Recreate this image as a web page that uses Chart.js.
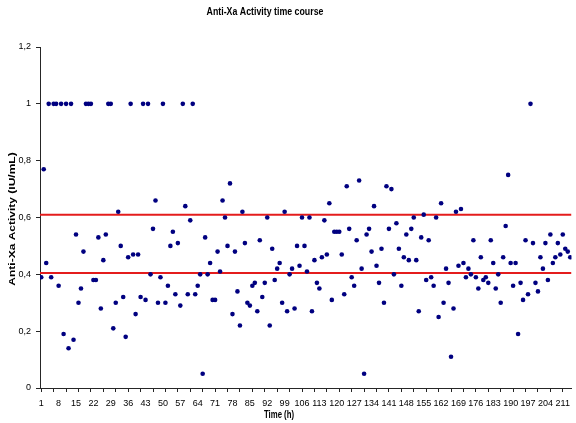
<!DOCTYPE html>
<html>
<head>
<meta charset="utf-8">
<script src="https://cdn.jsdelivr.net/npm/chart.js@4/dist/chart.umd.min.js"></script>
<style>
  html, body { margin: 0; padding: 0; background: #ffffff; }
  #wrap { width: 576px; height: 423px; }
</style>
</head>
<body>
<div id="wrap"><canvas id="chart" width="576" height="423"></canvas></div>
<script>
// Sampling hours (one reading per hour)
const hours = Array.from({ length: 214 }, (_, i) => i + 1);

// Anti-Xa activity (IU/mL) per hour
const antiXa = [
  0.39, 0.77, 0.44, 1.00, 0.39, 1.00, 1.00, 0.36, 1.00, 0.19,   // 1-10
  1.00, 0.14, 1.00, 0.17, 0.54, 0.30, 0.35, 0.48, 1.00, 1.00,   // 11-20
  1.00, 0.38, 0.38, 0.53, 0.28, 0.45, 0.54, 1.00, 1.00, 0.21,   // 21-30
  0.30, 0.62, 0.50, 0.32, 0.18, 0.46, 1.00, 0.47, 0.26, 0.47,   // 31-40
  0.32, 1.00, 0.31, 1.00, 0.40, 0.56, 0.66, 0.30, 0.39, 1.00,   // 41-50
  0.30, 0.36, 0.50, 0.55, 0.33, 0.51, 0.29, 1.00, 0.64, 0.33,   // 51-60
  0.59, 1.00, 0.33, 0.36, 0.40, 0.05, 0.53, 0.40, 0.44, 0.31,   // 61-70
  0.31, 0.48, 0.41, 0.66, 0.60, 0.50, 0.72, 0.26, 0.48, 0.34,   // 71-80
  0.22, 0.62, 0.51, 0.30, 0.29, 0.36, 0.37, 0.27, 0.52, 0.32,   // 81-90
  0.37, 0.60, 0.22, 0.49, 0.38, 0.42, 0.44, 0.30, 0.62, 0.27,   // 91-100
  0.40, 0.42, 0.28, 0.50, 0.43, 0.60, 0.50, 0.41, 0.60, 0.27,   // 101-110
  0.45, 0.37, 0.35, 0.46, 0.59, 0.47, 0.65, 0.31, 0.55, 0.55,   // 111-120
  0.55, 0.47, 0.33, 0.71, 0.56, 0.39, 0.36, 0.52, 0.73, 0.42,   // 121-130
  0.05, 0.54, 0.56, 0.48, 0.64, 0.43, 0.37, 0.49, 0.30, 0.71,   // 131-140
  0.56, 0.70, 0.40, 0.58, 0.49, 0.36, 0.46, 0.54, 0.45, 0.56,   // 141-150
  0.60, 0.45, 0.27, 0.53, 0.61, 0.38, 0.52, 0.39, 0.36, 0.60,   // 151-160
  0.25, 0.65, 0.30, 0.42, 0.37, 0.11, 0.28, 0.62, 0.43, 0.63,   // 161-170
  0.44, 0.39, 0.42, 0.40, 0.52, 0.39, 0.35, 0.46, 0.38, 0.39,   // 171-180
  0.37, 0.52, 0.44, 0.35, 0.40, 0.30, 0.46, 0.57, 0.75, 0.44,   // 181-190
  0.36, 0.44, 0.19, 0.37, 0.31, 0.52, 0.33, 1.00, 0.51, 0.37,   // 191-200
  0.34, 0.46, 0.42, 0.51, 0.38, 0.54, 0.44, 0.46, 0.51, 0.47,   // 201-210
  0.54, 0.49, 0.48, 0.46                                        // 211-214
];

// Axis tick labels
const xTickLabels = [1, 8, 15, 22, 29, 36, 43, 50, 57, 64, 71, 78, 85, 92, 99, 106,
                     113, 120, 127, 134, 141, 148, 155, 162, 169, 176, 183, 190, 197, 204, 211];
const xTickMarks = [1, 6, 11, 16, 21, 26, 31, 36, 41, 46, 51, 56, 61, 66, 71, 76, 81, 86, 91, 96,
                    101, 106, 111, 116, 121, 126, 131, 136, 141, 146, 151, 156, 161, 166, 171, 176,
                    181, 186, 191, 196, 201, 206, 211];
const yTickLabels = [0, 0.2, 0.4, 0.6, 0.8, 1, 1.2];

// Target range limits (IU/mL)
const targetRange = [0.405, 0.61];

const chartTitle = 'Anti-Xa Activity time course';
const xTitle = 'Time (h)';
const yTitle = 'Anti-Xa Activity (IU/mL)';

const FONT = "'Liberation Sans', Arial, sans-serif";
const AXIS = '#262626';
const MARKER = '#000080';
const LIMIT = 'rgb(228, 28, 28)';

const xMin = 0.5, xMax = hours[hours.length - 1] + 0.5;

const points = hours.map((h, i) => ({ x: h, y: antiXa[i] }));
const limitSets = targetRange.map(v => ({
  type: 'scatter',
  data: [{ x: xMin, y: v }, { x: xMax, y: v }],
  showLine: true,
  borderColor: LIMIT,
  borderWidth: 2,
  pointRadius: 0,
  pointHoverRadius: 0
}));

// Titles drawn with condensed lettering
const titlesPlugin = {
  id: 'titles',
  afterDraw(chart) {
    const ctx = chart.ctx;
    const put = (text, x, y, size, squeeze, rotate) => {
      ctx.save();
      ctx.translate(x, y);
      ctx.scale(squeeze, 1);
      if (rotate) ctx.rotate(-Math.PI / 2);
      ctx.font = 'bold ' + size + 'px ' + FONT;
      ctx.fillStyle = '#000';
      ctx.textAlign = 'center';
      ctx.textBaseline = 'middle';
      ctx.fillText(text, 0, 0);
      ctx.restore();
    };
    put(chartTitle, 265, 12, 11, 0.8, false);
    put(xTitle, 279, 415, 10.5, 0.74, false);
    put(yTitle, 12, 219, 12, 0.8, true);
  }
};

const allXTicks = Array.from(new Set([...xTickLabels, ...xTickMarks])).sort((a, b) => a - b);

new Chart(document.getElementById('chart'), {
  type: 'scatter',
  data: {
    datasets: [
      {
        data: points,
        backgroundColor: MARKER,
        borderColor: MARKER,
        borderWidth: 0,
        pointRadius: 2.3,
        pointHoverRadius: 2.3
      },
      ...limitSets
    ]
  },
  options: {
    responsive: false,
    animation: false,
    events: [],
    layout: { padding: { top: 47, left: 0, right: 0, bottom: 0 } },
    plugins: {
      legend: { display: false },
      title: { display: false },
      tooltip: { enabled: false }
    },
    scales: {
      x: {
        type: 'linear',
        min: xMin,
        max: xMax,
        afterBuildTicks: s => { s.ticks = allXTicks.map(v => ({ value: v })); },
        afterFit: s => { s.height = 35; },
        border: { display: true, color: AXIS, width: 1 },
        grid: {
          drawOnChartArea: false,
          drawTicks: true,
          tickLength: 4,
          tickWidth: 1,
          tickColor: c => (c.tick && xTickMarks.includes(c.tick.value)) ? AXIS : 'rgba(0,0,0,0)'
        },
        ticks: {
          autoSkip: false,
          maxRotation: 0,
          minRotation: 0,
          padding: 6,
          color: '#000',
          font: { family: FONT, size: 9 },
          callback: v => xTickLabels.includes(v) ? String(v) : ''
        }
      },
      y: {
        min: 0,
        max: 1.2,
        afterBuildTicks: s => { s.ticks = yTickLabels.map(v => ({ value: v })); },
        afterFit: s => { s.width = 40; },
        border: { display: true, color: AXIS, width: 1 },
        grid: {
          drawOnChartArea: false,
          drawTicks: true,
          tickLength: 4,
          tickWidth: 1,
          tickColor: AXIS
        },
        ticks: {
          padding: 5,
          color: '#000',
          font: { family: FONT, size: 9 },
          callback: v => String(v).replace('.', ',')
        }
      }
    }
  },
  plugins: [titlesPlugin]
});
</script>
</body>
</html>
